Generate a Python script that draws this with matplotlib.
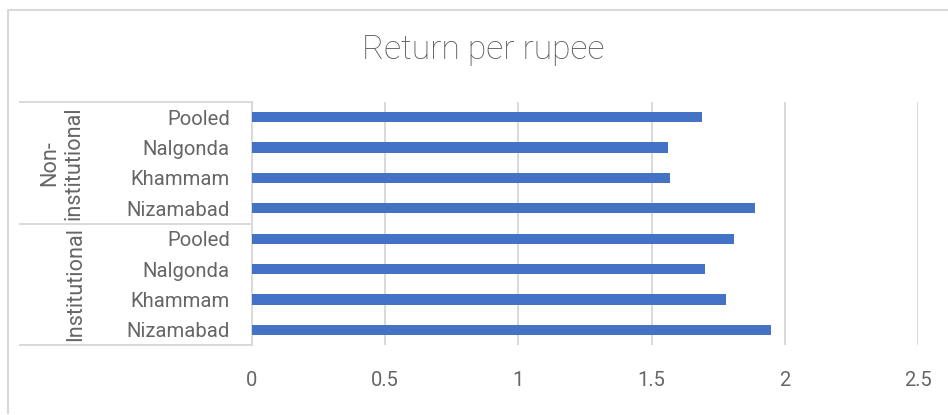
import matplotlib.pyplot as plt
import matplotlib.transforms as mtransforms
from matplotlib.lines import Line2D

# ---- data ----
districts = ["Nizamabad", "Khammam", "Nalgonda", "Pooled"]
groups = ["Institutional", "Non-\ninstitutional"]
institutional = [1.95, 1.78, 1.70, 1.81]
non_institutional = [1.89, 1.57, 1.56, 1.69]
x_ticks = [0, 0.5, 1, 1.5, 2, 2.5]
x_tick_labels = ["0", "0.5", "1", "1.5", "2", "2.5"]
title = "Return per rupee"

plt.rcParams['font.family'] = ['Roboto', 'DejaVu Sans']
TXT = '#595959'
LBL = '#666666'
GRID = '#d9d9d9'
BAR = '#4472C4'

W, H = 948, 415
fig = plt.figure(figsize=(W / 100, H / 100), dpi=100)


def fx(px):
    return px / W


def fy(py):
    return 1 - py / H


ax = fig.add_axes([fx(252), fy(345), fx(918) - fx(252), fy(102) - fy(345)])

values = institutional + non_institutional
labels = districts + districts
ypos = list(range(len(values)))
ax.barh(ypos, values, height=0.34, color=BAR, zorder=3)

ax.set_xlim(0, 2.5)
ax.set_ylim(-0.5, len(values) - 0.5)
ax.set_xticks(x_ticks)
ax.set_xticklabels(x_tick_labels, fontsize=14.5, color=LBL)
ax.set_yticks(ypos)
ax.set_yticklabels(labels, fontsize=14.6, color=LBL)
ax.tick_params(axis='both', length=0)
ax.tick_params(axis='y', pad=16)
ax.tick_params(axis='x', pad=19)
ax.grid(axis='x', color=GRID, lw=1.4, zorder=0)
for s in ['top', 'right', 'bottom']:
    ax.spines[s].set_visible(False)
ax.spines['left'].set_color(GRID)
ax.spines['left'].set_linewidth(1.4)

# multi-level category axis
blend = mtransforms.blended_transform_factory(fig.transFigure, ax.transData)
n = len(districts)
for yb in [-0.5, n - 0.5, 2 * n - 0.5]:
    ax.add_line(Line2D([fx(20), fx(252)], [yb, yb], transform=blend,
                       color=GRID, lw=1.4, clip_on=False))
ax.text(fx(76), (n - 1) / 2, groups[0], transform=blend, rotation=90,
        ha='center', va='center', fontsize=15.6, color=LBL)
ax.text(fx(62), n + (n - 1) / 2, groups[1], transform=blend, rotation=90,
        ha='center', va='center', multialignment='center',
        fontsize=15.6, color=LBL, linespacing=1.2)

# title
fig.text(fx(483), fy(50), title, ha='center', va='center',
         fontsize=24.2, color=TXT, fontweight='light')

# chart border
fig.add_artist(Line2D([fx(8), fx(8), 1.0], [fy(413), fy(10), fy(10)],
                      transform=fig.transFigure, color=GRID, lw=1.5))

fig.savefig('out.png', dpi=100)
